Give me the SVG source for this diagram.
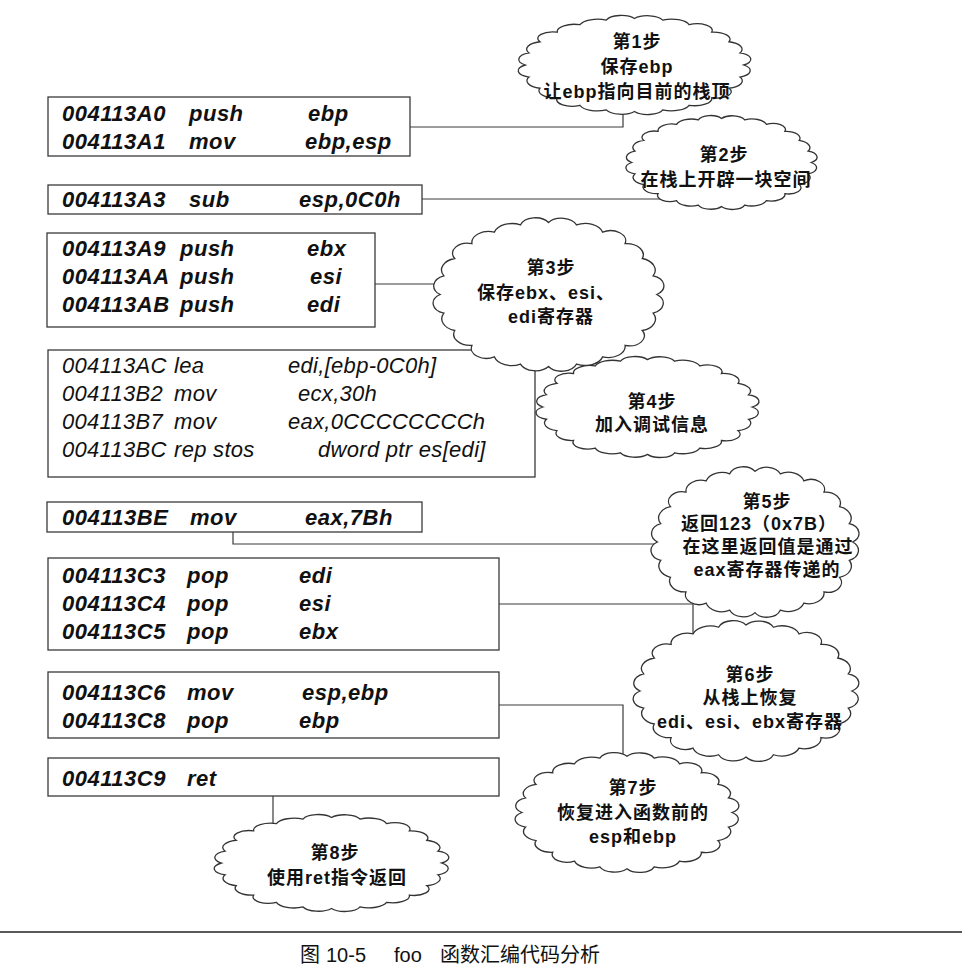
<svg xmlns="http://www.w3.org/2000/svg" xmlns:xlink="http://www.w3.org/1999/xlink" width="978" height="976" viewBox="0 0 978 976">
<style>
.box{fill:#fff;stroke:#3a3a3a;stroke-width:1.3}
.cb{font-family:"Liberation Sans",Arial,sans-serif;font-size:22px;font-weight:bold;font-style:italic;letter-spacing:0.5px;fill:#111}
.cr{font-family:"Liberation Sans",Arial,sans-serif;font-size:22px;font-style:italic;letter-spacing:0.3px;fill:#111}
.lbl{font-family:"Liberation Sans","Noto Sans CJK SC",sans-serif;font-size:18px;font-weight:bold;letter-spacing:1px;fill:#111;text-anchor:middle}
.conn{fill:none;stroke:#3a3a3a;stroke-width:1.2}
.cap{font-family:"Liberation Sans","Noto Sans CJK SC",sans-serif;font-size:20px;fill:#111}
</style>
<defs>
<path id="cloud" fill="#fff" stroke="#333" stroke-width="1.3" vector-effect="non-scaling-stroke" d="M100,0 A15,15 0 0 1 96.59,25.88 A16.5,16.5 0 0 1 86.6,50 A14,14 0 0 1 70.71,70.71 A15.5,15.5 0 0 1 50,86.6 A17,17 0 0 1 25.88,96.59 A14.5,14.5 0 0 1 0,100 A15,15 0 0 1 -25.88,96.59 A16.5,16.5 0 0 1 -50,86.6 A14,14 0 0 1 -70.71,70.71 A15.5,15.5 0 0 1 -86.6,50 A17,17 0 0 1 -96.59,25.88 A14.5,14.5 0 0 1 -100,0 A15,15 0 0 1 -96.59,-25.88 A16.5,16.5 0 0 1 -86.6,-50 A14,14 0 0 1 -70.71,-70.71 A15.5,15.5 0 0 1 -50,-86.6 A17,17 0 0 1 -25.88,-96.59 A14.5,14.5 0 0 1 0,-100 A15,15 0 0 1 25.88,-96.59 A16.5,16.5 0 0 1 50,-86.6 A14,14 0 0 1 70.71,-70.71 A15.5,15.5 0 0 1 86.6,-50 A17,17 0 0 1 96.59,-25.88 A14.5,14.5 0 0 1 100,0 Z"/>
</defs>
<rect width="978" height="976" fill="#fff"/>

<g id="box1">
<rect class="box" x="48" y="97" width="362" height="59"/>
<text class="cb" y="121"><tspan x="62">004113A0</tspan><tspan x="189">push</tspan><tspan x="308">ebp</tspan></text>
<text class="cb" y="149"><tspan x="62">004113A1</tspan><tspan x="189">mov</tspan><tspan x="305">ebp,esp</tspan></text>
</g>
<g id="box2">
<rect class="box" x="48" y="185" width="374" height="29"/>
<text class="cb" y="207"><tspan x="62">004113A3</tspan><tspan x="189">sub</tspan><tspan x="299">esp,0C0h</tspan></text>
</g>
<g id="box3">
<rect class="box" x="47" y="233" width="328" height="94"/>
<text class="cb" y="256"><tspan x="62">004113A9</tspan><tspan x="180">push</tspan><tspan x="307">ebx</tspan></text>
<text class="cb" y="284"><tspan x="62">004113AA</tspan><tspan x="180">push</tspan><tspan x="310">esi</tspan></text>
<text class="cb" y="312"><tspan x="62">004113AB</tspan><tspan x="180">push</tspan><tspan x="307">edi</tspan></text>
</g>
<g id="box4">
<rect class="box" x="48" y="350" width="487" height="127"/>
<text class="cr" y="373"><tspan x="62">004113AC</tspan><tspan x="174">lea</tspan><tspan x="288">edi,[ebp-0C0h]</tspan></text>
<text class="cr" y="401"><tspan x="62">004113B2</tspan><tspan x="174">mov</tspan><tspan x="298">ecx,30h</tspan></text>
<text class="cr" y="429"><tspan x="62">004113B7</tspan><tspan x="174">mov</tspan><tspan x="288">eax,0CCCCCCCCh</tspan></text>
<text class="cr" y="457"><tspan x="62">004113BC</tspan><tspan x="174">rep stos</tspan><tspan x="318">dword ptr es[edi]</tspan></text>
</g>
<g id="box5">
<rect class="box" x="47" y="502" width="375" height="30"/>
<text class="cb" y="525"><tspan x="62">004113BE</tspan><tspan x="190">mov</tspan><tspan x="305">eax,7Bh</tspan></text>
</g>
<g id="box6">
<rect class="box" x="48" y="558" width="451" height="92"/>
<text class="cb" y="583"><tspan x="62">004113C3</tspan><tspan x="187">pop</tspan><tspan x="299">edi</tspan></text>
<text class="cb" y="611"><tspan x="62">004113C4</tspan><tspan x="187">pop</tspan><tspan x="299">esi</tspan></text>
<text class="cb" y="639"><tspan x="62">004113C5</tspan><tspan x="187">pop</tspan><tspan x="299">ebx</tspan></text>
</g>
<g id="box7">
<rect class="box" x="48" y="672" width="451" height="66"/>
<text class="cb" y="700"><tspan x="62">004113C6</tspan><tspan x="187">mov</tspan><tspan x="302">esp,ebp</tspan></text>
<text class="cb" y="728"><tspan x="62">004113C8</tspan><tspan x="187">pop</tspan><tspan x="299">ebp</tspan></text>
</g>
<g id="box8">
<rect class="box" x="48" y="758" width="451" height="38"/>
<text class="cb" y="786"><tspan x="62">004113C9</tspan><tspan x="187">ret</tspan></text>
</g>

<g id="connectors">
<polyline class="conn" points="410,127 623,127 623,100"/>
<polyline class="conn" points="422,199 700,199"/>
<polyline class="conn" points="375,284 460,284"/>
<polyline class="conn" points="233,532 233,544 680,544"/>
<polyline class="conn" points="499,604 693,604 693,645"/>
<polyline class="conn" points="499,705 623,705 623,770"/>
<polyline class="conn" points="273,796 273,835"/>
</g>

<g id="step1">
<use xlink:href="#cloud" href="#cloud" transform="translate(634.5,65) scale(1.092,0.465)"/>
<text class="lbl" x="637" y="48">第1步</text>
<text class="lbl" x="637" y="73">保存ebp</text>
<text class="lbl" x="637" y="98">让ebp指向目前的栈顶</text>
</g>
<g id="step2">
<use xlink:href="#cloud" href="#cloud" transform="translate(721.5,162.5) scale(0.897,0.441)"/>
<text class="lbl" x="724" y="161">第2步</text>
<text class="lbl" x="726" y="186">在栈上开辟一块空间</text>
</g>
<g id="step3">
<use xlink:href="#cloud" href="#cloud" transform="translate(548.5,294.5) scale(1.083,0.72)"/>
<text class="lbl" x="551" y="274">第3步</text>
<text class="lbl" x="546" y="299">保存ebx、esi、</text>
<text class="lbl" x="551" y="323">edi寄存器</text>
</g>
<g id="step4">
<use xlink:href="#cloud" href="#cloud" transform="translate(647.5,407) scale(1.046,0.474)"/>
<text class="lbl" x="652" y="408">第4步</text>
<text class="lbl" x="652" y="431">加入调试信息</text>
</g>
<g id="step5">
<use xlink:href="#cloud" href="#cloud" transform="translate(755,542) scale(0.976,0.706)"/>
<text class="lbl" x="767" y="508">第5步</text>
<text class="lbl" x="759" y="530">返回123（0x7B）</text>
<text class="lbl" x="768" y="553">在这里返回值是通过</text>
<text class="lbl" x="767" y="576">eax寄存器传递的</text>
</g>
<g id="step6">
<use xlink:href="#cloud" href="#cloud" transform="translate(746,691) scale(1.059,0.66)"/>
<text class="lbl" x="750" y="681">第6步</text>
<text class="lbl" x="750" y="704">从栈上恢复</text>
<text class="lbl" x="750" y="728">edi、esi、ebx寄存器</text>
</g>
<g id="step7">
<use xlink:href="#cloud" href="#cloud" transform="translate(627,812.5) scale(1.05,0.562)"/>
<text class="lbl" x="633" y="794">第7步</text>
<text class="lbl" x="633" y="819">恢复进入函数前的</text>
<text class="lbl" x="633" y="843">esp和ebp</text>
</g>
<g id="step8">
<use xlink:href="#cloud" href="#cloud" transform="translate(331.5,863) scale(1.101,0.455)"/>
<text class="lbl" x="335" y="859">第8步</text>
<text class="lbl" x="337" y="884">使用ret指令返回</text>
</g>

<line x1="0" y1="932" x2="962" y2="932" stroke="#222" stroke-width="1.5"/>
<text class="cap" y="962"><tspan x="300">图</tspan><tspan x="326">10-5</tspan><tspan x="394">foo</tspan><tspan x="440">函数汇编代码分析</tspan></text>
</svg>
